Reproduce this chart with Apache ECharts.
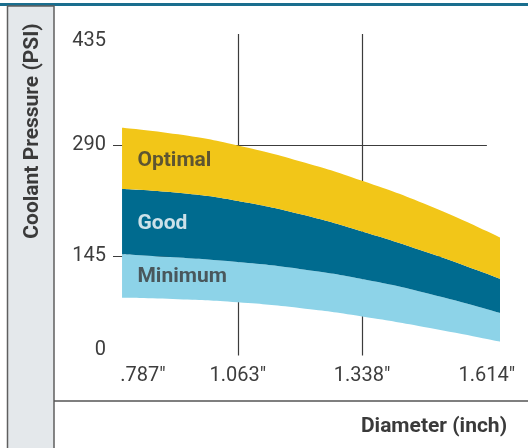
<!DOCTYPE html>
<html><head><meta charset="utf-8">
<script src="https://cdn.jsdelivr.net/npm/echarts@6/dist/echarts.min.js"></script>
<style>html,body{margin:0;padding:0;background:#fff}#c{width:528px;height:448px}</style>
</head><body><div id="c"></div>
<script>
// ---- data ----
const diameters   = [0.807, 0.931, 1.063, 1.2, 1.338, 1.488, 1.643];
const minimumLow  = [90.5, 88.6, 84.6, 77.1, 66.1, 51.1, 33.3];
const minimumHigh = [147.2, 142.9, 137.0, 128.1, 115.0, 95.5, 70.7];
const goodHigh    = [232.5, 227.5, 217.0, 199.9, 177.1, 148.6, 115.3];
const optimalHigh = [312.6, 303.9, 289.4, 268.9, 243.4, 210.4, 169.3];
const bandNames   = ['Minimum', 'Good', 'Optimal'];
const xTickValues = [0.787, 1.063, 1.338, 1.614];
const xTickLabels = ['.787"', '1.063"', '1.338"', '1.614"'];
const yTicks      = [0, 145, 290, 435];
const yGridValues = [145, 290];
const xGridValues = [1.063, 1.338];
const yTitle = 'Coolant Pressure (PSI)';
const xTitle = 'Diameter (inch)';

// ---- styles ----
const bandColors = ['#8DD3E8', '#006B8F', '#F2C618'];
const bandTextColors = ['#383838', '#ffffff', '#383838'];
const textColor = '#3d3d3d';
const gridColor = '#3c3c3c';
const FONT = 'Roboto';
const bandLabelX = 0.84;
const gridLineBottom = 15;

const lows = [minimumLow, minimumHigh, goodHigh];
const highs = [minimumHigh, goodHigh, optimalHigh];

const chart = echarts.init(document.getElementById('c'), null, {renderer: 'canvas'});

const series = [{
  // grid lines (drawn beneath the bands)
  name: 'grid', type: 'line', z: 0, data: [], symbol: 'none',
  markLine: {
    z: 0, silent: true, symbol: ['none', 'none'], label: {show: false}, animation: false,
    lineStyle: {color: gridColor, width: 1.2, type: 'solid'},
    emphasis: {disabled: true},
    data: [
      ...yGridValues.map(v => [{coord: [xTickValues[0], v]}, {coord: [xTickValues[xTickValues.length - 1], v]}]),
      ...xGridValues.map(v => [{coord: [v, yTicks[yTicks.length - 1]]}, {coord: [v, gridLineBottom]}])
    ]
  }
}, {
  // data rows are [pressure, diameter] so that the pressure column is the stacked one
  name: 'base', type: 'line', stack: 'band', z: 3, smooth: 0.5,
  symbol: 'none', lineStyle: {opacity: 0},
  encode: {x: 1, y: 0},
  data: diameters.map((x, i) => [minimumLow[i], x])
}];
bandNames.forEach((name, b) => {
  series.push({
    name, type: 'line', stack: 'band', z: 3, smooth: 0.5,
    symbol: 'none', lineStyle: {opacity: 0},
    areaStyle: {color: bandColors[b], opacity: 1},
    encode: {x: 1, y: 0},
    data: diameters.map((x, i) => [highs[b][i] - lows[b][i], x])
  });
});
series.push({
  type: 'scatter', z: 6, symbolSize: 1, itemStyle: {color: 'rgba(0,0,0,0)'}, silent: true,
  data: bandNames.map((name, b) => ({
    value: [bandLabelX, (lows[b][0] + lows[b][1] + highs[b][0] + highs[b][1]) / 4],
    label: {show: true, formatter: name, position: 'right', distance: 0,
      color: bandTextColors[b], fontSize: 21, fontWeight: 'bold', fontFamily: FONT}
  }))
});

const lblFont = {fontSize: 20, fontFamily: FONT, color: textColor};

chart.setOption({
  animation: false,
  grid: {left: 113, right: 28, top: 34, bottom: 81},
  xAxis: {
    type: 'value', min: xTickValues[0], max: diameters[diameters.length - 1],
    axisLine: {show: false}, axisTick: {show: false}, splitLine: {show: false},
    axisLabel: Object.assign({}, lblFont, {
      customValues: xTickValues, margin: -1,
      formatter: v => {
        const i = xTickValues.findIndex(t => Math.abs(t - v) < 1e-6);
        const s = i >= 0 ? xTickLabels[i] : '';
        return i === 0 ? '{first|' + s + '}' : s;
      },
      rich: {first: Object.assign({}, lblFont, {padding: [0, 0, 0, 60]})}
    })
  },
  yAxis: {
    type: 'value', min: yTicks[0], max: yTicks[yTicks.length - 1], interval: yTicks[1] - yTicks[0],
    axisLine: {show: false}, axisTick: {show: false}, splitLine: {show: false},
    axisLabel: Object.assign({}, lblFont, {
      margin: 7,
      formatter: v => v === yTicks[0] ? '{lo|' + v + '}' : (v === yTicks[yTicks.length - 1] ? '{hi|' + v + '}' : String(v)),
      rich: {
        lo: Object.assign({}, lblFont, {padding: [0, 0, 34, 0]}),
        hi: Object.assign({}, lblFont, {padding: [14, 0, 0, 0]})
      }
    })
  },
  graphic: [
    {type: 'rect', z: 0, shape: {x: 0, y: 3, width: 528, height: 3}, style: {fill: '#1a6e8e'}},
    {type: 'rect', z: 0, shape: {x: 7.5, y: 6, width: 46.5, height: 450}, style: {fill: '#e4e8eb', stroke: '#5f5f5f', lineWidth: 1.5}},
    {type: 'line', z: 0, shape: {x1: 54, y1: 401, x2: 528, y2: 401}, style: {stroke: '#555', lineWidth: 1.5}},
    {type: 'text', z: 10, x: 33, y: 131, rotation: Math.PI / 2,
      style: {text: yTitle, fill: '#3a3a3a', font: 'bold 21px Roboto', textAlign: 'center', textVerticalAlign: 'middle'}},
    {type: 'text', z: 10, x: 507, y: 427,
      style: {text: xTitle, fill: '#3a3a3a', font: 'bold 21px Roboto', textAlign: 'right', textVerticalAlign: 'middle'}}
  ],
  series
});
</script></body></html>
